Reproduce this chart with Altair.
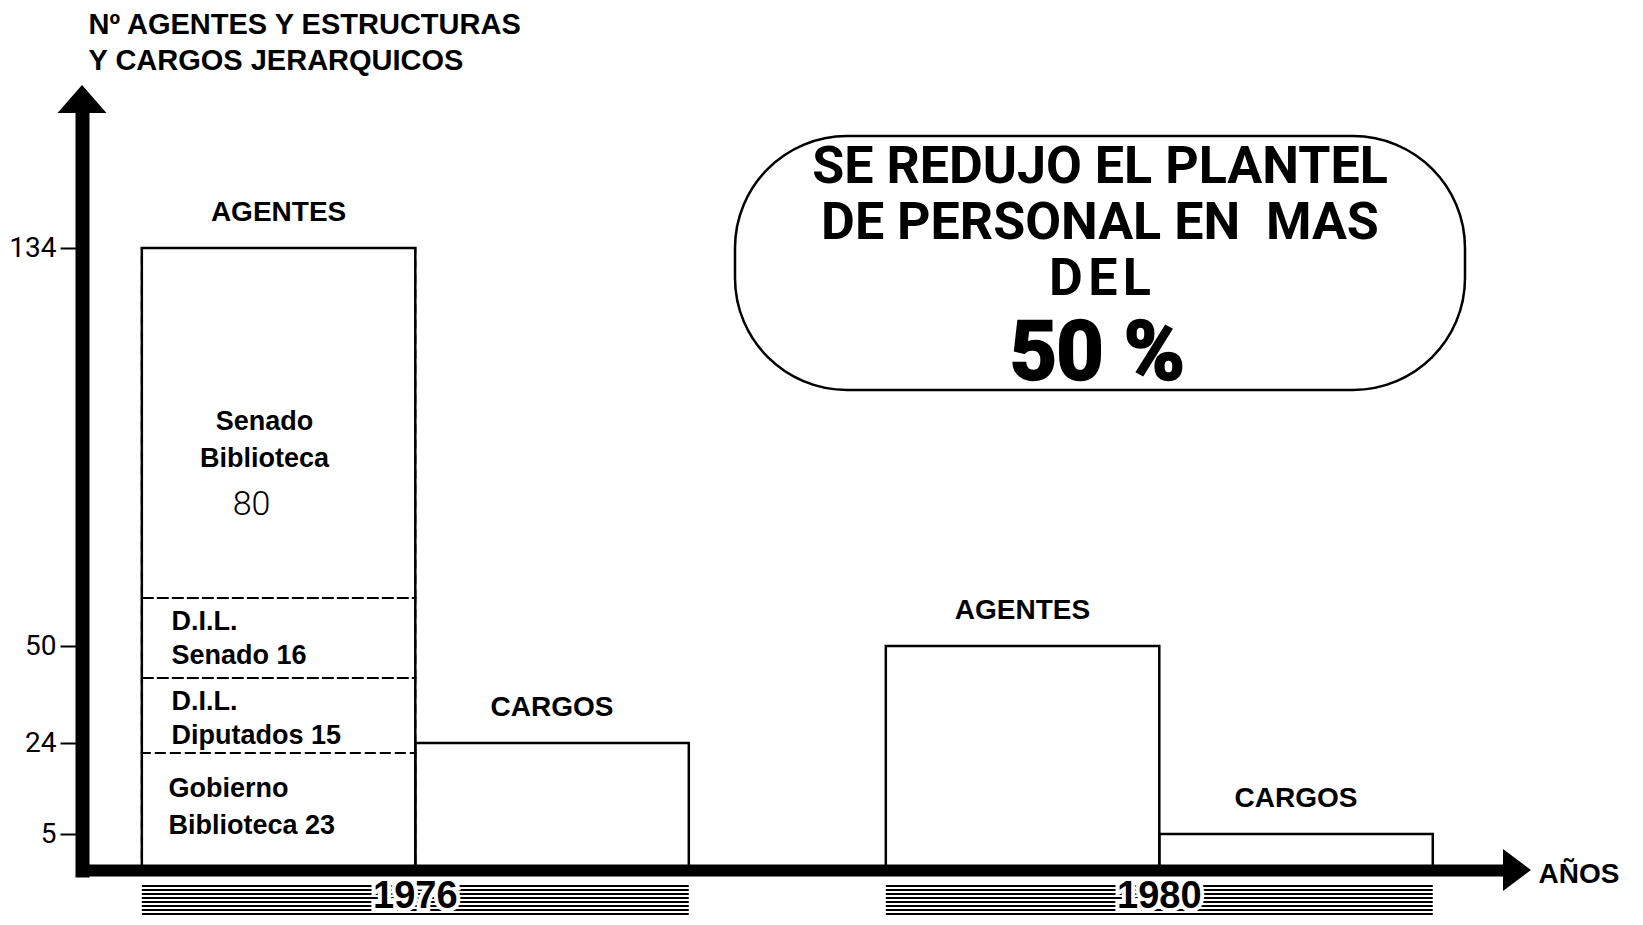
import altair as alt
import pandas as pd

# ---------------- data ----------------
years = ["1976", "1980"]
tipos = ["AGENTES", "CARGOS"]
agentes = [134, 50]
cargos = [24, 5]

seg_names = ["Gobierno\nBiblioteca", "D.I.L.\nDiputados", "D.I.L.\nSenado", "Senado\nBiblioteca"]
seg_values = [23, 15, 16, 80]

y_ticks = [5, 24, 50, 134]
y_title = ["Nº AGENTES Y ESTRUCTURAS", "Y CARGOS JERARQUICOS"]
x_title = "AÑOS"
callout_lines = ["SE REDUJO EL PLANTEL", "DE PERSONAL EN\u00a0\u00a0MAS", "D\u200aE\u200aL"]
callout_pct = "50 %"

# ---------------- tables ----------------
bars = pd.DataFrame({
    "year": years * 2,
    "tipo": [tipos[0]] * 2 + [tipos[1]] * 2,
    "value": agentes + cargos,
})

ends = list(pd.Series(seg_values).cumsum())
starts = [e - v for e, v in zip(ends, seg_values)]
seg = pd.DataFrame({
    "year": [years[0]] * 4,
    "tipo": [tipos[0]] * 4,
    "start": starts,
    "end": ends,
    "mid": [(s + e) / 2 for s, e in zip(starts, ends)],
    "name": seg_names,
    "value": seg_values,
})
seg["label"] = seg["name"] + " " + seg["value"].astype(str)
seg_low = seg.iloc[:1]
seg_dil = seg.iloc[1:3]
seg_big = seg.iloc[3:]
yr_df = pd.DataFrame({"year": years})
one = pd.DataFrame({"k": [0]})

# ---------------- layout ----------------
W, H = 1625, 862
AX = 74

# the hand-drawn value axis of the original is not proportional:
# a piecewise scale reproduces its drawn spacing
y_dom = [0, 5, 23, 24, 38, 50, 54, 134, 160]
y_rng = [862, 826, 745, 735, 670, 638, 590, 240, 105]

x_axis = alt.Axis(labels=False, ticks=False, tickSize=0, grid=False,
                  domainWidth=12, domainColor="black", domainCap="square",
                  title=x_title, titleX=1530, titleY=4, titleAlign="left",
                  titleBaseline="middle", titleFont="Liberation Sans",
                  titleFontSize=28, titleFontWeight="bold", titleColor="black")
y_axis = alt.Axis(values=y_ticks, offset=-AX, grid=False,
                  domainWidth=14, domainColor="black", domainCap="square",
                  tickSize=22, tickWidth=2, tickColor="black",
                  labelFont="Roboto", labelFontSize=28, labelColor="black",
                  labelPadding=4, labelOverlap=False,
                  title=y_title, titleAngle=0, titleAlign="left", titleBaseline="top",
                  titleX=6, titleY=2, titleFont="Liberation Sans", titleFontSize=29,
                  titleFontWeight="bold", titleColor="black", titleLineHeight=36)

x_scale = alt.Scale(type="band", domain=years, range=[AX, 1495],
                    paddingInner=0.2648, paddingOuter=0.0874, align=0.46)
y_scale = alt.Scale(type="linear", domain=y_dom, range=y_rng, nice=False, zero=False)

x_enc = alt.X("year:N", scale=x_scale, axis=x_axis)
xo = alt.XOffset("tipo:N", scale=alt.Scale(domain=tipos, paddingInner=0, paddingOuter=0))


def yq(field):
    return alt.Y(field, scale=y_scale, axis=y_axis, stack=None)


# stripes under the year labels
stripe_layers = [
    alt.Chart(yr_df).mark_bar(color="black").encode(
        x=x_enc, y=alt.value(877 + 4 * k), y2=alt.value(879 + 4 * k))
    for k in range(8)
]

year_style = dict(font="Liberation Sans", fontSize=38, fontWeight="bold",
                  baseline="top", align="center")
year_halo = alt.Chart(yr_df).mark_text(
    color="white", stroke="white", strokeWidth=8, **year_style
).encode(x=x_enc, y=alt.value(870), text="year:N")
year_txt = alt.Chart(yr_df).mark_text(color="black", **year_style).encode(
    x=x_enc, y=alt.value(870), text="year:N")

segs = alt.Chart(seg).mark_bar(
    fillOpacity=0, stroke="black", strokeWidth=2, strokeDash=[9, 6]
).encode(x=x_enc, xOffset=xo, y=yq("end:Q"), y2="start:Q")

bar_layer = alt.Chart(bars).mark_bar(
    fillOpacity=0, stroke="black", strokeWidth=2.5
).encode(x=x_enc, xOffset=xo, y=yq("value:Q"))

top_lbl = alt.Chart(bars).mark_text(
    font="Liberation Sans", fontSize=28, fontWeight="bold", baseline="middle",
    dy=-35, color="black"
).encode(x=x_enc, xOffset=xo, y=yq("value:Q"), text="tipo:N")

# multi-line labels: y gives the first line
lbl_style = dict(font="Liberation Sans", fontSize=27, fontWeight="bold",
                 baseline="middle", lineBreak="\n", color="black")
low_lbl = alt.Chart(seg_low).mark_text(
    align="left", dx=-110, dy=36, lineHeight=37, **lbl_style
).encode(x=x_enc, xOffset=xo, y=yq("end:Q"), text="label:N")
dil_lbl = alt.Chart(seg_dil).mark_text(
    align="left", dx=-107, dy=24, lineHeight=34, **lbl_style
).encode(x=x_enc, xOffset=xo, y=yq("end:Q"), text="label:N")
big_lbl = alt.Chart(seg_big).mark_text(
    align="center", dx=-14, dy=-1, lineHeight=37, **lbl_style
).encode(x=x_enc, xOffset=xo, y=yq("mid:Q"), text="name:N")
big_val = alt.Chart(seg_big).mark_text(
    font="Roboto", fontSize=34, fontWeight=300, align="center",
    baseline="middle", dx=-27, dy=82, color="black"
).encode(x=x_enc, xOffset=xo, y=yq("mid:Q"), text="value:Q")

box = alt.Chart(one).mark_rect(
    fillOpacity=0, stroke="black", strokeWidth=2.5, cornerRadius=112
).encode(x=alt.value(727), x2=alt.value(1457), y=alt.value(128), y2=alt.value(382))

ctext = alt.Chart(one).mark_text(
    text=callout_lines, font="Roboto", fontSize=52, fontWeight="bold",
    align="center", baseline="top", lineHeight=56, color="black"
).encode(x=alt.value(1092), y=alt.value(134))

cpct = alt.Chart(one).mark_text(
    text=callout_pct, font="Roboto", fontSize=82, fontWeight="bold",
    align="center", baseline="top", color="black", stroke="black", strokeWidth=2.5
).encode(x=alt.value(1089), y=alt.value(306))

up_arrow = alt.Chart(one).mark_point(
    shape="M0,-1.14L1,0L-1,0Z", size=2401, filled=True, color="black",
    opacity=1, strokeWidth=0
).encode(x=alt.value(AX), y=alt.value(105))

right_arrow = alt.Chart(one).mark_point(
    shape="M0,-1L1.33,0L0,1Z", size=1764, filled=True, color="black",
    opacity=1, strokeWidth=0
).encode(x=alt.value(1495), y=alt.value(862))

chart = alt.layer(
    *stripe_layers, year_halo, year_txt, segs, bar_layer, top_lbl,
    low_lbl, dil_lbl, big_lbl, big_val, box, ctext, cpct, up_arrow, right_arrow
).properties(
    width=W, height=H,
    autosize=alt.AutoSizeParams(type="none"),
    padding={"left": 0, "top": 0, "right": 0, "bottom": 45},
    background="white",
).configure_view(stroke=None)

chart.save("out.html", embed_options={"renderer": "svg", "actions": False})
